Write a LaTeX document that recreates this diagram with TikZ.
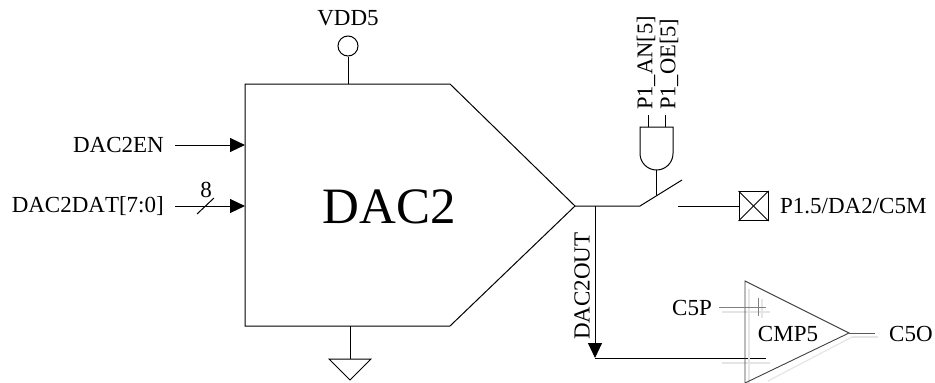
\documentclass[tikz,border=0pt]{standalone}
\usepackage{fontspec}
\setmainfont[Kerning=Off]{Liberation Serif}
\usetikzlibrary{arrows.meta,calc}
\tikzset{
  wire/.style={line width=1pt,draw=black},
  flow/.style={wire,-{Triangle[length=15pt,width=14pt]}},
  lab/.style={font=\fontsize{23}{25}\selectfont,inner sep=0pt},
  vlab/.style={font=\fontsize{22.5}{24}\selectfont,inner sep=0pt,rotate=90},
  ghost/.style={line width=1.2pt,draw=black!10},
  body/.style={line width=1pt,draw=black,fill=white},
}
\begin{document}
\begin{tikzpicture}[x=1pt,y=-1pt]
\useasboundingbox (0,0) rectangle (935,383);
% DAC body
\draw[body] (245,84) -- (450,84) -- (575,206) -- (450,326) -- (245,326) -- cycle;
\node[lab,font=\fontsize{51}{54}\selectfont] (dac) at (389,207) {DAC2};
\coordinate (dacout) at (575,206);
\coordinate (enin) at (245,145);
\coordinate (datin) at (245,206);
% Supply
\node[lab] (vdd) at (348,18) {VDD5};
\node[circle,draw,line width=1pt,minimum size=20pt,inner sep=0pt] (vddc) at (348,46) {};
\coordinate (vddb) at (348,84);
\draw[wire] (vddc) -- (vddb);
% Ground
\coordinate (gndt) at (350,326);
\coordinate (gnd) at (350,359);
\draw[wire] (gndt) -- (gnd);
\draw[wire,line join=miter] (329,359) -- (371,359) -- (350,380) -- cycle;
% Inputs
\node[lab,anchor=east] (en) at (164,145) {DAC2EN};
\node[lab,anchor=east] (dat) at (164,206) {DAC2DAT[7:0]};
\coordinate (ens) at (175,145);
\coordinate (dats) at (175,206);
\draw[flow] (ens) -- (enin);
\draw[flow] (dats) -- (datin);
\draw[wire] (197,214) -- (214,198);
\node[lab] (eight) at (206,190) {8};
% Output and switch
\coordinate (junc) at (595,206);
\coordinate (swa) at (640,206);
\coordinate (swb) at (682,180);
\coordinate (swc) at (678,206);
\draw[wire] (dacout) -- (swa) -- (swb);
\node[draw,line width=1pt,minimum size=29pt,inner sep=0pt] (pad) at (753.5,206) {};
\draw[wire] (pad.north west) -- (pad.south east);
\draw[wire] (pad.north east) -- (pad.south west);
\draw[wire] (swc) -- (pad.west);
\node[lab,anchor=west] (padl) at (780,206) {P1.5/DA2/C5M};
% AND gate
\draw[wire] (640,127) -- (673,127) -- (673,153.5) arc[start angle=0,end angle=180,radius=16.5] -- cycle;
\coordinate (gatein) at (656.5,170);
\coordinate (swm) at (656.5,195);
\draw[wire] (gatein) -- (swm);
\coordinate (gia) at (648,127);
\coordinate (gib) at (665,127);
\node[vlab,anchor=west] (an) at (646,110) {P1\_AN[5]};
\node[vlab,anchor=west] (oe) at (669,110) {P1\_OE[5]};
\draw[wire] (gia) -- (648,115);
\draw[wire] (gib) -- (665,115);
% DAC2OUT
\coordinate (mid) at (595,358);
\coordinate (minus) at (766,358);
\draw[flow] (junc) -- (mid);
\draw[wire] (mid) -- (minus);
\node[lab,rotate=90] (outl) at (582,286) {DAC2OUT};
% Comparator
\draw[ghost] (749,289) -- (749,383);
\draw[ghost] (722,312) -- (770,312);
\draw[ghost] (722,363) -- (770,363);
\draw[ghost] (762,299) -- (762,318);
\draw[ghost] (852,337) -- (768,381);
\draw[ghost] (852,337) -- (878,337);
\draw[line width=0.9pt,draw=black!75] (745,281) -- (849,333) -- (745,383) -- cycle;
\coordinate (plus) at (766,307);
\coordinate (pw) at (719,307);
\draw[line width=0.9pt,draw=black!50] (pw) -- (plus);
\draw[line width=0.9pt,draw=black!50] (758,298) -- (758,316);
\node[lab] (cmp) at (788,334) {CMP5};
\node[lab,anchor=east] (c5p) at (712,308) {C5P};
\coordinate (ctip) at (849,333);
\coordinate (cout) at (875,333);
\draw[line width=0.9pt,draw=black!65] (ctip) -- (cout);
\node[lab,anchor=west] (c5o) at (889,334) {C5O};
\end{tikzpicture}
\end{document}
